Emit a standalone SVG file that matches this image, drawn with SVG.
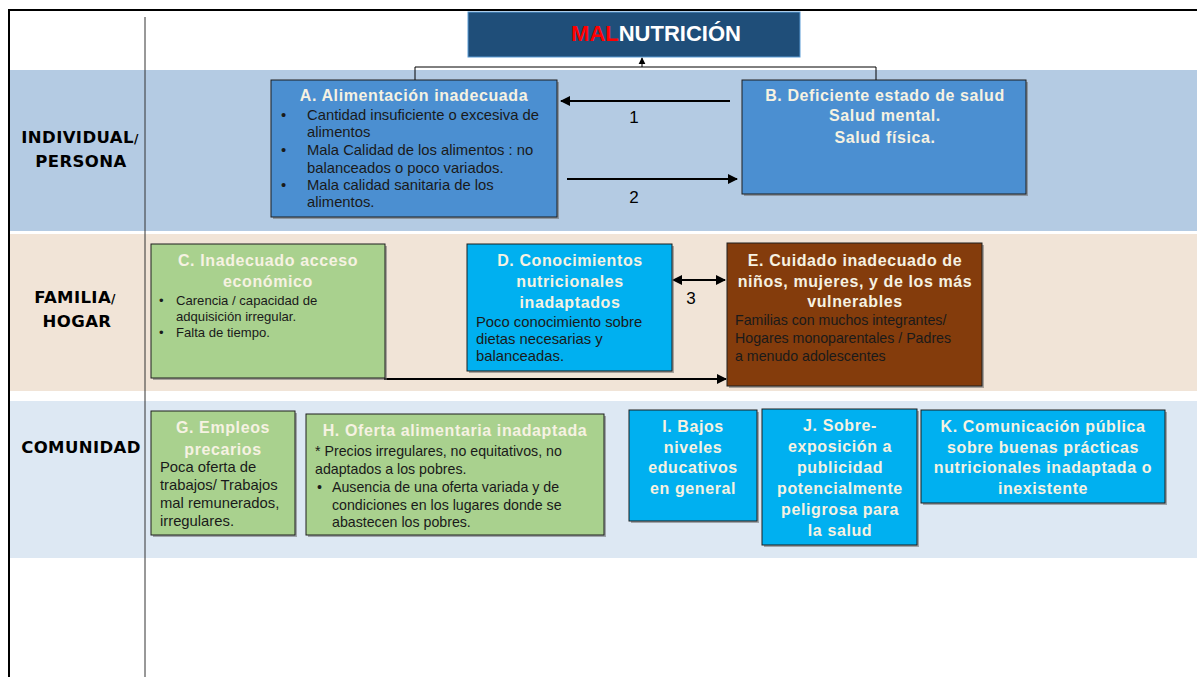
<svg xmlns="http://www.w3.org/2000/svg" width="1197" height="677" viewBox="0 0 1197 677">
<style>
text{font-family:"Liberation Sans",Arial,sans-serif}
.box{stroke:#1e1e1e;stroke-width:1}
.shadow{fill:#6b6b6b;opacity:.55}
.blue{fill:#4B8FD1}
.green{fill:#A9D18E}
.cyan{fill:#00B0F0}
.brown{fill:#843C0C}
.ttl{font-weight:bold;fill:#F6F2E2;font-size:16px;letter-spacing:0.6px;text-anchor:middle}
.body{fill:#1a1a1a;font-size:14.8px}
.b2{font-size:14.2px}
.b3{font-size:13.1px}
.lab{font-family:"DejaVu Sans",sans-serif;font-weight:bold;font-size:16.5px;letter-spacing:0.4px;fill:#000;text-anchor:middle}
.num{font-family:"Liberation Sans",Arial,sans-serif;font-size:17px;fill:#000;text-anchor:middle}
.ln{stroke:#000;fill:none}
</style>
<defs>
<marker id="ah" viewBox="0 0 10 10" refX="9" refY="5" markerWidth="5" markerHeight="5" orient="auto-start-reverse" markerUnits="strokeWidth">
<path d="M0,0 L10,5 L0,10 z" fill="#000"/>
</marker>
<marker id="ahs" viewBox="0 0 10 10" refX="9" refY="5" markerWidth="7" markerHeight="8" orient="auto" markerUnits="strokeWidth">
<path d="M0,0 L10,5 L0,10 z" fill="#000"/>
</marker>
</defs>
<rect width="1197" height="677" fill="#fff"/>
<g id="bands">
<rect x="9" y="70" width="1188" height="161" fill="#B4CBE3"/>
<rect x="9" y="234" width="1188" height="157" fill="#F1E4D7"/>
<rect x="9" y="401" width="1188" height="157" fill="#DDE8F3"/>
</g>
<g id="frame">
<line x1="8" y1="10" x2="1197" y2="10" stroke="#000" stroke-width="2"/>
<line x1="9" y1="10" x2="9" y2="677" stroke="#000" stroke-width="2"/>
<line x1="145" y1="17" x2="145" y2="677" stroke="#333" stroke-width="1"/>
</g>
<g id="labels">
<text class="lab" x="80" y="143">INDIVIDUAL<tspan font-size="12">/</tspan></text>
<text class="lab" x="81" y="167">PERSONA</text>
<text class="lab" x="75" y="303">FAMILIA<tspan font-size="12">/</tspan></text>
<text class="lab" x="77" y="327">HOGAR</text>
<text class="lab" x="81" y="453">COMUNIDAD</text>
</g>
<g id="title">
<rect x="468" y="12" width="332" height="45" fill="#1F4E79" stroke="#5B9BD5" stroke-width="1"/>
<text x="656" y="41" font-size="22" font-weight="bold" text-anchor="middle" fill="#fff"><tspan fill="#FF0000">MAL</tspan>NUTRICIÓN</text>
</g>
<g id="connectors">
<polyline class="ln" stroke-width="1" points="415,80 415,67 876,67 876,80"/>
<line class="ln" stroke-width="1" x1="642" y1="67" x2="642" y2="58" marker-end="url(#ahs)"/>
<line class="ln" stroke-width="2" x1="730" y1="101" x2="561" y2="101" marker-end="url(#ah)"/>
<line class="ln" stroke-width="2" x1="567" y1="179" x2="737" y2="179" marker-end="url(#ah)"/>
<line class="ln" stroke-width="2" x1="673" y1="280" x2="725" y2="280" marker-start="url(#ah)" marker-end="url(#ah)"/>
<polyline class="ln" stroke-width="2" points="385,378 385,379 726,379" marker-end="url(#ah)"/>
<text class="num" x="634" y="123">1</text>
<text class="num" x="634" y="203">2</text>
<text class="num" x="691" y="304">3</text>
</g>
<g id="nodeA">
<rect class="shadow" x="273" y="82" width="286" height="137"/>
<rect class="box blue" x="271" y="80" width="286" height="137"/>
<text class="ttl" x="414" y="101">A. Alimentación inadecuada</text>
<text class="body" x="281" y="120">•</text>
<text class="body" x="307" y="120">Cantidad insuficiente o excesiva de</text>
<text class="body" x="307" y="137">alimentos</text>
<text class="body" x="281" y="155">•</text>
<text class="body" x="307" y="155">Mala Calidad de los alimentos : no</text>
<text class="body" x="307" y="173">balanceados o poco variados.</text>
<text class="body" x="281" y="190">•</text>
<text class="body" x="307" y="190">Mala calidad sanitaria de los</text>
<text class="body" x="307" y="207">alimentos.</text>
</g>
<g id="nodeB">
<rect class="shadow" x="744" y="82" width="284" height="114"/>
<rect class="box blue" x="742" y="80" width="284" height="114"/>
<text class="ttl" x="885" y="101">B. Deficiente estado de salud</text>
<text class="ttl" x="885" y="121">Salud mental.</text>
<text class="ttl" x="885" y="143">Salud física.</text>
</g>
<g id="nodeC">
<rect class="shadow" x="153" y="246" width="234" height="134"/>
<rect class="box green" x="151" y="244" width="234" height="134"/>
<text class="ttl" x="268" y="266">C. Inadecuado acceso</text>
<text class="ttl" x="268" y="287">económico</text>
<text class="body b3" x="159" y="305">•</text>
<text class="body b3" x="176" y="305">Carencia / capacidad de</text>
<text class="body b3" x="176" y="321">adquisición irregular.</text>
<text class="body b3" x="159" y="337">•</text>
<text class="body b3" x="176" y="337">Falta de tiempo.</text>
</g>
<g id="nodeD">
<rect class="shadow" x="469" y="246" width="205" height="127"/>
<rect class="box cyan" x="467" y="244" width="205" height="127"/>
<text class="ttl" x="570" y="266">D. Conocimientos</text>
<text class="ttl" x="570" y="287">nutricionales</text>
<text class="ttl" x="570" y="308">inadaptados</text>
<text class="body" x="476" y="327">Poco conocimiento sobre</text>
<text class="body" x="476" y="344">dietas necesarias y</text>
<text class="body" x="476" y="361">balanceadas.</text>
</g>
<g id="nodeE">
<rect class="shadow" x="729" y="245" width="255" height="143"/>
<rect class="box brown" x="727" y="243" width="255" height="143"/>
<text class="ttl" x="855" y="266">E. Cuidado inadecuado de</text>
<text class="ttl" x="855" y="287">niños, mujeres, y de los más</text>
<text class="ttl" x="855" y="307">vulnerables</text>
<text class="body b2" x="735" y="325">Familias con muchos integrantes/</text>
<text class="body b2" x="735" y="343">Hogares monoparentales / Padres</text>
<text class="body b2" x="735" y="361">a menudo adolescentes</text>
</g>
<g id="nodeG">
<rect class="shadow" x="153" y="413" width="144" height="124"/>
<rect class="box green" x="151" y="411" width="144" height="124"/>
<text class="ttl" x="223" y="433">G. Empleos</text>
<text class="ttl" x="223" y="455">precarios</text>
<text class="body" x="160" y="472">Poca oferta de</text>
<text class="body" x="160" y="490">trabajos/ Trabajos</text>
<text class="body" x="160" y="508">mal remunerados,</text>
<text class="body" x="160" y="526">irregulares.</text>
</g>
<g id="nodeH">
<rect class="shadow" x="308" y="416" width="298" height="121"/>
<rect class="box green" x="306" y="414" width="298" height="121"/>
<text class="ttl" x="455" y="436">H. Oferta alimentaria inadaptada</text>
<text class="body b2" x="315" y="456">* Precios irregulares, no equitativos, no</text>
<text class="body b2" x="315" y="474">adaptados a los pobres.</text>
<text class="body b2" x="317" y="492">•</text>
<text class="body b2" x="332" y="492">Ausencia de una oferta variada y de</text>
<text class="body b2" x="332" y="510">condiciones en los lugares donde se</text>
<text class="body b2" x="332" y="527">abastecen los pobres.</text>
</g>
<g id="nodeI">
<rect class="shadow" x="631" y="412" width="128" height="111"/>
<rect class="box cyan" x="629" y="410" width="128" height="111"/>
<text class="ttl" x="693" y="432">I. Bajos</text>
<text class="ttl" x="693" y="453">niveles</text>
<text class="ttl" x="693" y="473">educativos</text>
<text class="ttl" x="693" y="494">en general</text>
</g>
<g id="nodeJ">
<rect class="shadow" x="764" y="411" width="155" height="136"/>
<rect class="box cyan" x="762" y="409" width="155" height="136"/>
<text class="ttl" x="840" y="431">J. Sobre-</text>
<text class="ttl" x="840" y="452">exposición a</text>
<text class="ttl" x="840" y="473">publicidad</text>
<text class="ttl" x="840" y="494">potencialmente</text>
<text class="ttl" x="840" y="515">peligrosa para</text>
<text class="ttl" x="840" y="536">la salud</text>
</g>
<g id="nodeK">
<rect class="shadow" x="923" y="412" width="244" height="93"/>
<rect class="box cyan" x="921" y="410" width="244" height="93"/>
<text class="ttl" x="1043" y="432">K. Comunicación pública</text>
<text class="ttl" x="1043" y="453">sobre buenas prácticas</text>
<text class="ttl" x="1043" y="473">nutricionales inadaptada o</text>
<text class="ttl" x="1043" y="494">inexistente</text>
</g>
</svg>
